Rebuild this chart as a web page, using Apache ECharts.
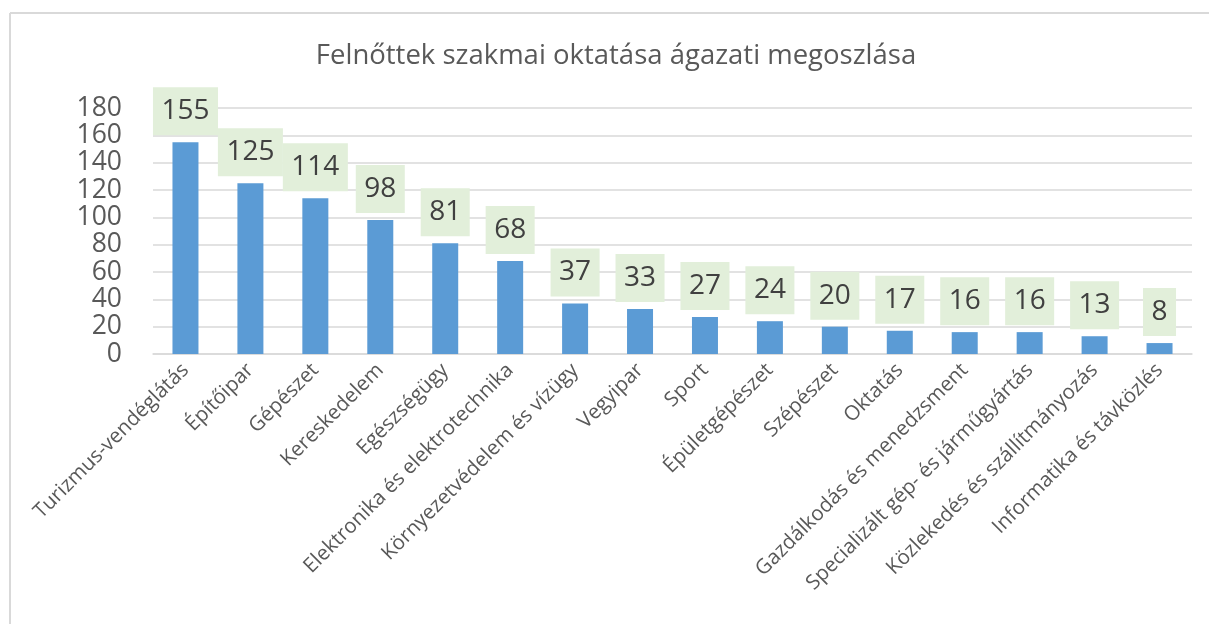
<!DOCTYPE html>
<html><head><meta charset="utf-8">
<script src="https://cdn.jsdelivr.net/npm/echarts@6/dist/echarts.min.js"></script>
<style>html,body{margin:0;padding:0;background:#fff}#c{width:1209px;height:624px}</style>
</head><body><div id="c"></div>
<script>
var titleText = 'Felnőttek szakmai oktatása ágazati megoszlása';
var categories = ['Turizmus-vendéglátás','Építőipar','Gépészet','Kereskedelem','Egészségügy','Elektronika és elektrotechnika','Környezetvédelem és vízügy','Vegyipar','Sport','Épületgépészet','Szépészet','Oktatás','Gazdálkodás és menedzsment','Specializált gép- és járműgyártás','Közlekedés és szállítmányozás','Informatika és távközlés'];
var values = [155,125,114,98,81,68,37,33,27,24,20,17,16,16,13,8];
var yTicks = [0,20,40,60,80,100,120,140,160,180];

var chart = echarts.init(document.getElementById('c'), null, {renderer:'canvas'});
var font = '"Open Sans", "Noto Sans", sans-serif';
chart.setOption({
  backgroundColor:'#fff',
  animation:false,
  textStyle:{fontFamily:font},
  title:{text:titleText,left:611,top:37,textAlign:'center',
    textStyle:{fontFamily:font,fontSize:27.5,fontWeight:'normal',color:'#595959'}},
  graphic:[
    {type:'line',shape:{x1:10,y1:13,x2:1209,y2:13},style:{stroke:'#d9d9d9',lineWidth:2}},
    {type:'line',shape:{x1:10,y1:13,x2:10,y2:624},style:{stroke:'#d9d9d9',lineWidth:2}}
  ],
  grid:{left:153,right:17,top:108,bottom:270,containLabel:false},
  xAxis:{type:'category',data:categories,
    axisLine:{lineStyle:{color:'#d9d9d9',width:1.5}},axisTick:{show:false},
    axisLabel:{rotate:45,interval:0,margin:13,fontSize:20.5,color:'#595959',fontFamily:font}},
  yAxis:{type:'value',min:yTicks[0],max:yTicks[yTicks.length-1],interval:yTicks[1]-yTicks[0],
    axisLine:{show:false},axisTick:{show:false},
    splitLine:{lineStyle:{color:'#d9d9d9',width:1.5}},
    axisLabel:{fontSize:26.5,color:'#595959',margin:31,fontFamily:font}},
  series:[{type:'bar',data:values,barWidth:26,
    itemStyle:{color:'#5B9BD5'},
    label:{show:true,position:'top',distance:7,fontSize:28,color:'#404040',fontFamily:font,
      backgroundColor:'#E2EFDA',padding:[10,8.5,10,8.5],lineHeight:28}}]
});
</script></body></html>
